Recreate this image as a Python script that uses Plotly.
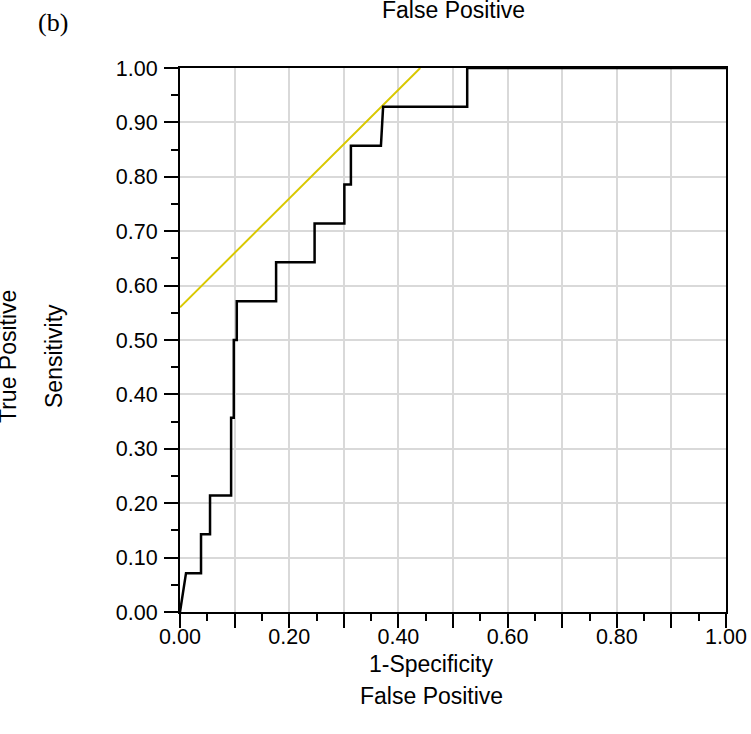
import plotly.graph_objects as go

# ROC curve (1-Specificity vs Sensitivity)
fpr = [0.0, 0.011, 0.0385, 0.0385, 0.055, 0.055, 0.0936, 0.0936, 0.0985, 0.0985,
       0.104, 0.104, 0.176, 0.176, 0.2465, 0.2465, 0.301, 0.301, 0.313, 0.313,
       0.368, 0.372, 0.526, 0.526, 1.0]
tpr = [0.0, 0.0714, 0.0714, 0.1429, 0.1429, 0.2143, 0.2143, 0.3571, 0.3571, 0.5,
       0.5, 0.5714, 0.5714, 0.6429, 0.6429, 0.7143, 0.7143, 0.7857, 0.7857, 0.8571,
       0.8571, 0.9286, 0.9286, 1.0, 1.0]

# tangent line (slope 1)
tan_x = [0.0, 0.44]
tan_y = [0.56, 1.0]

x_tickvals = [0.0, 0.1, 0.2, 0.3, 0.4, 0.5, 0.6, 0.7, 0.8, 0.9, 1.0]
x_ticktext = ["0.00", "", "0.20", "", "0.40", "", "0.60", "", "0.80", "", "1.00"]
y_tickvals = [0.0, 0.1, 0.2, 0.3, 0.4, 0.5, 0.6, 0.7, 0.8, 0.9, 1.0]
y_ticktext = ["0.00", "0.10", "0.20", "0.30", "0.40", "0.50", "0.60", "0.70", "0.80", "0.90", "1.00"]

W, H = 751, 734
L, R, T, B = 180, 25, 68, 122
PW, PH = W - L - R, H - T - B


def px(x):
    return (x - L) / PW


def py(y):
    return (H - B - y) / PH


SANS = "Liberation Sans, Arial, sans-serif"
TF = dict(family=SANS, size=21.5, color="black")
LF = dict(family=SANS, size=23, color="black")

fig = go.Figure()
fig.add_trace(go.Scatter(x=tan_x, y=tan_y, mode="lines",
                         line=dict(color="#d9c800", width=2), showlegend=False))
fig.add_trace(go.Scatter(x=fpr, y=tpr, mode="lines",
                         line=dict(color="black", width=2.5), showlegend=False))

axis_common = dict(
    range=[0, 1], showline=True, linecolor="black", linewidth=2, mirror=True,
    ticks="outside", ticklen=14, tickwidth=2, tickcolor="black",
    showgrid=True, gridcolor="#d9d9d9", gridwidth=2, zeroline=False,
    tickfont=TF, automargin=False, ticklabeloverflow="allow",
    minor=dict(tickmode="linear", tick0=0, dtick=0.05, ticklen=7, tickwidth=2,
               tickcolor="black", ticks="outside", showgrid=False),
    fixedrange=True,
)

fig.update_xaxes(tickmode="array", tickvals=x_tickvals, ticktext=x_ticktext,
                 ticklabelstandoff=-10, **axis_common)
fig.update_yaxes(tickmode="array", tickvals=y_tickvals, ticktext=y_ticktext,
                 ticklabelstandoff=2, **axis_common)


def label(text, x, y, font, angle=0):
    return dict(text=text, x=px(x), y=py(y), xref="paper", yref="paper",
                xanchor="center", yanchor="middle", textangle=angle,
                showarrow=False, font=font)


ann = [
    label("(b)", 53, 22, dict(family="Liberation Serif, Times New Roman, serif",
                              size=26, color="black")),
    label("False Positive", 453, 10, LF),
    label("1-Specificity", 431, 664, LF),
    label("False Positive", 431, 696, LF),
    label("Sensitivity", 54, 356, LF, -90),
    label("True Positive", 8, 357, LF, -90),
]

fig.update_layout(
    width=W, height=H,
    margin=dict(l=L, r=R, t=T, b=B, autoexpand=False),
    plot_bgcolor="white", paper_bgcolor="white",
    annotations=ann, showlegend=False,
)

fig.write_html("out.html", config={"displayModeBar": False},
               post_script="document.body.style.margin='0px';document.body.style.overflow='hidden';")
